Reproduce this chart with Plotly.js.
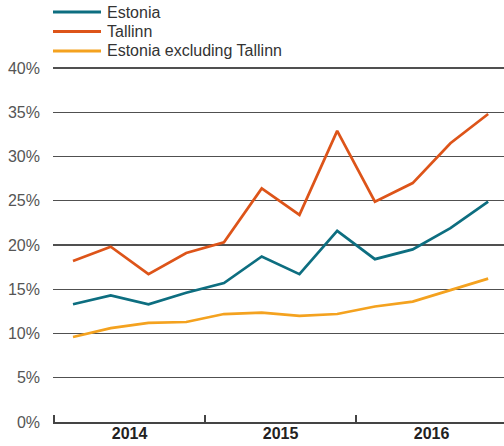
<!DOCTYPE html>
<html>
<head>
<meta charset="utf-8">
<script src="https://cdn.plot.ly/plotly-3.0.1.min.js"></script>
<style>
  html, body { margin: 0; padding: 0; background: #fff; }
  #chart { width: 504px; height: 446px; }
</style>
</head>
<body>
<div id="chart"></div>
<script>
// quarterly values, Q1 2014 .. Q4 2016 (percent)
const quarters = [0, 1, 2, 3, 4, 5, 6, 7, 8, 9, 10, 11];
const estonia = [13.3, 14.3, 13.3, 14.6, 15.7, 18.7, 16.7, 21.6, 18.4, 19.5, 21.9, 24.9];
const tallinn = [18.2, 19.8, 16.7, 19.1, 20.3, 26.4, 23.4, 32.9, 24.9, 27.0, 31.5, 34.8];
const estoniaExTallinn = [9.6, 10.6, 11.2, 11.3, 12.2, 12.35, 12.0, 12.2, 13.05, 13.6, 14.9, 16.2];

const seriesNames = ["Estonia", "Tallinn", "Estonia excluding Tallinn"];
const years = ["2014", "2015", "2016"];
const yearCenters = [1.5, 5.5, 9.5];
const yearBoundaries = [-0.5, 3.5, 7.5];
const yTicks = [0, 5, 10, 15, 20, 25, 30, 35, 40];
const yTickLabels = ["0%", "5%", "10%", "15%", "20%", "25%", "30%", "35%", "40%"];

const seriesColors = ["#0d6e80", "#dd5419", "#f4a21f"];

const font = "Liberation Sans, Arial, sans-serif";

const W = 504;
const H = 446;
const margin = { l: 53, r: 0, t: 65, b: 24 };
const plotW = W - margin.l - margin.r;
const plotH = H - margin.t - margin.b;

// pixel -> paper helpers for the hand-made legend
function paperX(px) { return (px - margin.l) / plotW; }
function paperY(px) { return (H - margin.b - px) / plotH; }

const legendRowsPx = [12, 31.5, 51];

function lineTrace(y, name, color) {
  return {
    x: quarters,
    y: y,
    type: "scatter",
    mode: "lines",
    name: name,
    line: { color: color, width: 2.7 },
    hoverinfo: "skip"
  };
}

const seriesValues = [estonia, tallinn, estoniaExTallinn];

const traces = seriesValues.map((vals, i) => lineTrace(vals, seriesNames[i], seriesColors[i]));
// helper trace so the year label axis gets drawn
traces.push({ x: [quarters[0]], y: [null], xaxis: "x2", type: "scatter", mode: "lines", showlegend: false, hoverinfo: "skip" });

const legendShapes = seriesNames.map((name, i) => ({
  type: "line",
  xref: "paper",
  yref: "paper",
  x0: paperX(53),
  x1: paperX(101),
  y0: paperY(legendRowsPx[i]),
  y1: paperY(legendRowsPx[i]),
  line: { color: seriesColors[i], width: 3 }
}));

const legendLabels = seriesNames.map((name, i) => ({
  xref: "paper",
  yref: "paper",
  x: paperX(105),
  y: paperY(legendRowsPx[i]),
  xanchor: "left",
  yanchor: "middle",
  text: name,
  showarrow: false,
  font: { family: font, size: 16, color: "#333" }
}));

const layout = {
  width: W,
  height: H,
  margin: margin,
  paper_bgcolor: "#fff",
  plot_bgcolor: "#fff",
  font: { family: font, size: 16, color: "#555" },
  showlegend: false,
  shapes: legendShapes,
  annotations: legendLabels,
  xaxis: {
    range: [-0.53, 11.42],
    showgrid: false,
    zeroline: false,
    showline: true,
    linecolor: "#444",
    linewidth: 1.5,
    tickmode: "array",
    tickvals: yearBoundaries,
    ticktext: ["", "", ""],
    ticks: "inside",
    ticklen: 7,
    tickwidth: 1.5,
    tickcolor: "#444",
    fixedrange: true
  },
  xaxis2: {
    overlaying: "x",
    matches: "x",
    side: "bottom",
    range: [-0.53, 11.42],
    showgrid: false,
    zeroline: false,
    showline: false,
    tickmode: "array",
    tickvals: yearCenters,
    ticktext: years,
    ticks: "",
    tickfont: { family: font, size: 16, color: "#222", weight: "bold" }
  },
  yaxis: {
    range: [0, 40.34],
    tickmode: "array",
    tickvals: yTicks,
    ticktext: yTickLabels,
    showgrid: true,
    gridcolor: "#505050",
    gridwidth: 1.2,
    zeroline: false,
    showline: false,
    ticks: "",
    ticklabelstandoff: 12,
    tickfont: { family: font, size: 16, color: "#555" },
    fixedrange: true
  }
};

Plotly.newPlot("chart", traces, layout, { displayModeBar: false, staticPlot: true });
</script>
</body>
</html>
